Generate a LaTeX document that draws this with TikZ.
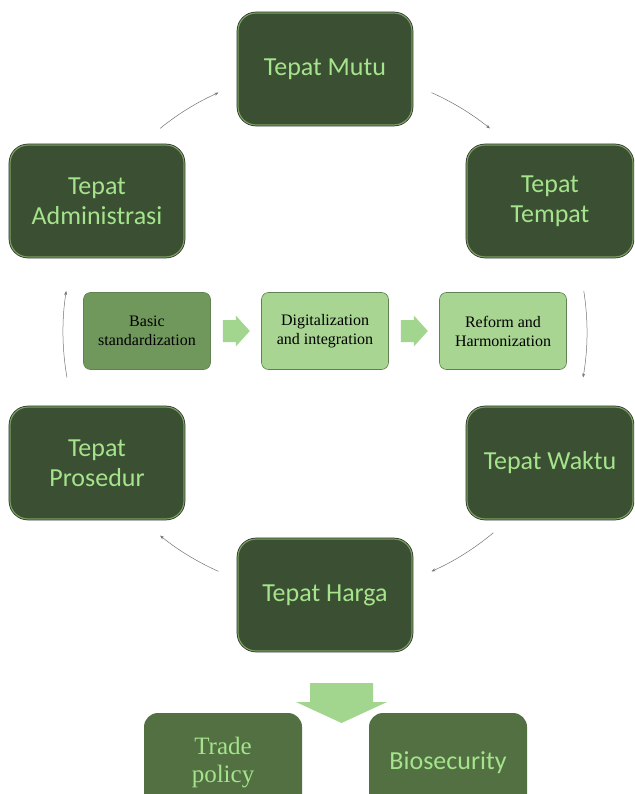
\documentclass[tikz,border=0pt]{standalone}
\usepackage{fontspec}
\setmainfont{Liberation Serif}
\newfontfamily\boxfont{Carlito}
\usetikzlibrary{arrows.meta}

\definecolor{boxdark}{RGB}{59,79,50}
\definecolor{boxrim}{RGB}{120,160,95}
\definecolor{boxtext}{RGB}{165,228,140}
\definecolor{stepdark}{RGB}{112,152,92}
\definecolor{steplight}{RGB}{168,213,146}
\definecolor{steprim}{RGB}{95,130,80}
\definecolor{blockarrow}{RGB}{162,214,142}
\definecolor{footbox}{RGB}{82,112,66}

\begin{document}
\begin{tikzpicture}
        [x=1pt,y=1pt,
         bigbox/.style={shape=rectangle,rounded corners=18pt,minimum width=174pt,minimum height=112pt,
           fill=boxdark,draw=boxrim,line width=1.2pt,preaction={draw=black!85,line width=2.6pt},
           text=boxtext,align=center,inner sep=0,font=\boxfont\fontsize{26}{30}\selectfont},
         stepbox/.style={shape=rectangle,rounded corners=7pt,minimum width=127pt,minimum height=77pt,
           draw=steprim,line width=0.6pt,text=black,align=center,inner sep=0,
           font=\fontsize{16}{19}\selectfont},
         footbox/.style={shape=rectangle,rounded corners=14pt,minimum width=158pt,minimum height=100pt,
           fill=footbox,text=boxtext,align=center,inner sep=0},
         cyc/.style={draw=black!55,line width=0.5pt,-{Stealth[length=4pt,width=3pt]}}]

        \clip (0,0) rectangle (634,-794);
        \fill[white] (0,0) rectangle (634,-794);

        % ring of boxes
        \node[bigbox] (mutu) at (325,-69) {Tepat Mutu};
        \node[bigbox,minimum width=166pt] (tempat) at (550,-201) {Tepat\\Tempat};
        \node[bigbox,minimum width=166pt] (waktu) at (550,-463) {Tepat Waktu};
        \node[bigbox] (harga) at (325,-595) {Tepat Harga};
        \node[bigbox] (prosedur) at (97,-463) {Tepat\\Prosedur};
        \node[bigbox] (admin) at (97,-201) {Tepat\\Administrasi};

        % steps in the middle
        \node[stepbox,fill=stepdark] (basic) at (147,-331) {Basic\\standardization};
        \node[stepbox,fill=steplight] (digital) at (325,-331) {Digitalization\\and integration};
        \node[stepbox,fill=steplight] (reform) at (503,-331) {Reform and\\Harmonization};

        \path (basic.east) ++(12,0) coordinate (gap1);
        \path (digital.east) ++(12,0) coordinate (gap2);
        \fill[blockarrow] (gap1) ++(0,11) -- ++(13,0) -- ++(0,4.5) -- ++(14,-15.5) -- ++(-14,-15.5) -- ++(0,4.5) -- ++(-13,0) -- cycle;
        \fill[blockarrow] (gap2) ++(0,11) -- ++(13,0) -- ++(0,4.5) -- ++(14,-15.5) -- ++(-14,-15.5) -- ++(0,4.5) -- ++(-13,0) -- cycle;

        % circular arrows
        \coordinate (hub) at (325,-332);
        \path (hub) ++(129:262) coordinate (c1);
        \path (hub) ++(66:262) coordinate (c2);
        \path (hub) ++(9:262) coordinate (c3);
        \path (hub) ++(-50:262) coordinate (c4);
        \path (hub) ++(-114:262) coordinate (c5);
        \path (hub) ++(190:262) coordinate (c6);
        \draw[cyc] (c1) arc[start angle=129,end angle=114,radius=262pt];
        \draw[cyc] (c2) arc[start angle=66,end angle=51,radius=262pt];
        \draw[cyc] (c3) arc[start angle=9,end angle=-10,radius=262pt];
        \draw[cyc] (c4) arc[start angle=-50,end angle=-66,radius=262pt];
        \draw[cyc] (c5) arc[start angle=-114,end angle=-129,radius=262pt];
        \draw[cyc] (c6) arc[start angle=190,end angle=171,radius=262pt];

        % outcome
        \node[footbox,font=\fontsize{25}{28}\selectfont] (trade) at (223,-763) {Trade\\policy};
        \node[footbox,font=\boxfont\fontsize{26}{30}\selectfont] (bio) at (448,-763) {Biosecurity};
        \coordinate (drop) at (341.5,-683);
        \fill[blockarrow] (drop) ++(-31.5,0) -- ++(63,0) -- ++(0,-19) -- ++(14,0) -- ++(-45.5,-21) -- ++(-45.5,21) -- ++(14,0) -- cycle;

      \end{tikzpicture}
\end{document}
